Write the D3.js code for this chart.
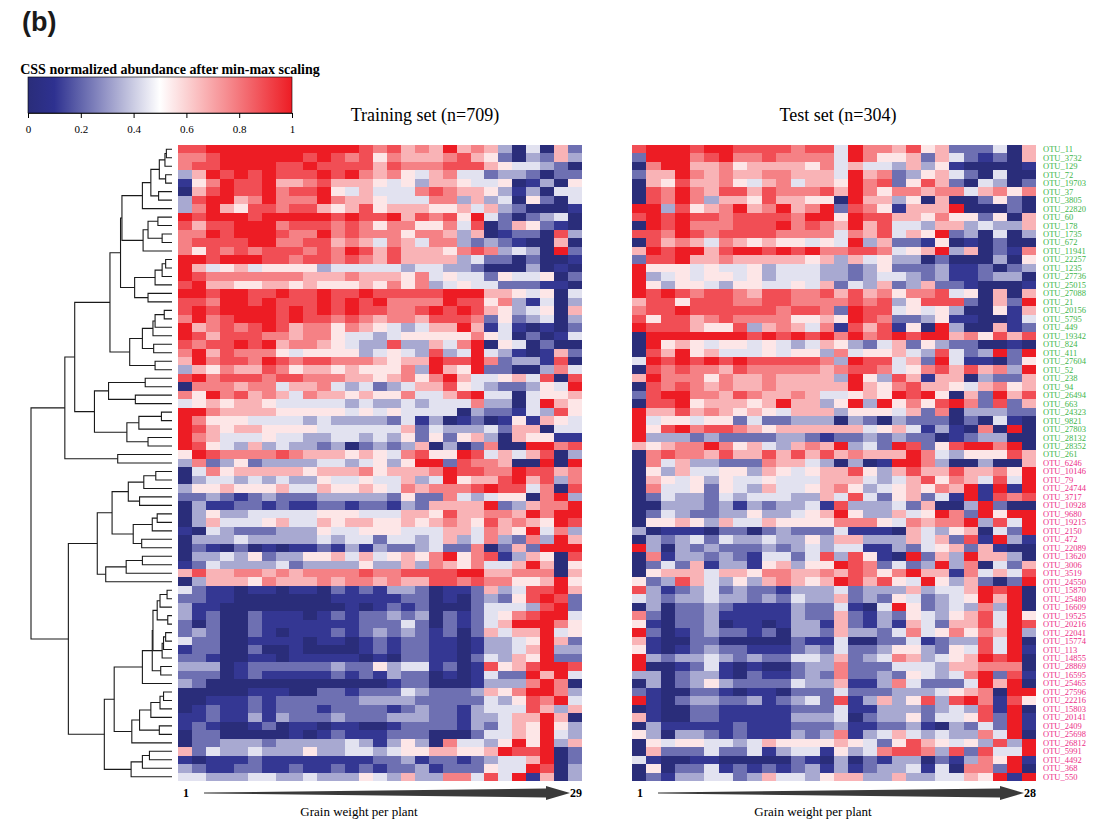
<!DOCTYPE html>
<html>
<head>
<meta charset="utf-8">
<script src="https://cdn.jsdelivr.net/npm/d3@7"></script>
<style>
  body { margin: 0; background: #fff; }
  svg { display: block; }
</style>
</head>
<body>
<svg id="chart"></svg>
<script>

// row labels: upper cluster (green) and lower cluster (pink)
var greenLabels = ["OTU_11", "OTU_3732", "OTU_129", "OTU_72", "OTU_19703", "OTU_37", "OTU_3805", "OTU_22820",
  "OTU_60", "OTU_178", "OTU_1735", "OTU_672", "OTU_11941", "OTU_22257", "OTU_1235", "OTU_27736", "OTU_25015",
  "OTU_27088", "OTU_21", "OTU_20156", "OTU_5795", "OTU_449", "OTU_19342", "OTU_824", "OTU_411", "OTU_27604",
  "OTU_52", "OTU_238", "OTU_94", "OTU_26494", "OTU_663", "OTU_24323", "OTU_9821", "OTU_27803", "OTU_28132",
  "OTU_28352", "OTU_261"];
var pinkLabels = ["OTU_6246", "OTU_10146", "OTU_79", "OTU_24744", "OTU_3717", "OTU_10928", "OTU_9680",
  "OTU_19215", "OTU_2150", "OTU_472", "OTU_22089", "OTU_13620", "OTU_3006", "OTU_3519", "OTU_24550",
  "OTU_15870", "OTU_25480", "OTU_16609", "OTU_19525", "OTU_20216", "OTU_22041", "OTU_15774", "OTU_113",
  "OTU_14855", "OTU_28869", "OTU_16595", "OTU_25465", "OTU_27596", "OTU_22216", "OTU_15803", "OTU_20141",
  "OTU_2409", "OTU_25698", "OTU_26812", "OTU_5991", "OTU_4492", "OTU_368", "OTU_550"];

// scaled abundance per row, in ninths (0 = min, 9 = max), columns sorted by grain weight
var trainRows = [
  "8 8 9 9 9 9 9 9 9 9 9 9 9 8 7 8 6 7 6 9 6 7 6 3 0 4 0 6 2",
  "7 7 8 9 9 9 9 9 9 8 9 8 7 8 5 7 6 6 6 7 8 6 5 2 0 3 2 6 3",
  "7 8 8 9 9 9 9 8 8 9 8 8 8 8 6 8 7 7 7 8 8 8 6 5 4 4 3 2 0",
  "3 6 9 8 9 8 9 8 8 8 9 8 9 7 6 7 5 4 6 7 4 4 2 3 3 2 0 2 2",
  "1 5 7 9 8 8 9 6 6 7 8 6 6 6 5 4 5 3 6 6 5 4 4 5 0 1 3 0 5",
  "0 6 8 9 8 8 9 7 8 8 9 5 4 6 4 4 4 7 8 7 6 6 5 3 1 3 0 4 4",
  "3 8 9 9 6 7 9 7 7 7 9 7 6 6 5 4 4 4 7 7 3 6 3 4 0 5 2 0 4",
  "3 7 9 6 5 8 8 7 8 8 6 5 6 8 5 6 6 6 5 5 6 4 6 3 2 0 0 0 1",
  "9 8 9 9 9 8 9 9 9 9 9 8 9 8 8 9 6 8 7 8 5 9 4 2 0 2 3 4 0",
  "8 6 8 8 9 9 9 7 8 8 8 7 8 7 5 7 7 5 5 7 4 8 0 2 6 5 2 1 0",
  "7 7 9 8 9 9 9 8 7 7 9 7 8 7 7 7 5 7 7 6 3 6 0 1 2 2 0 8 3",
  "7 8 8 8 8 9 9 7 7 8 8 6 7 6 4 7 6 4 7 7 3 2 3 2 1 0 0 6 0",
  "7 5 8 7 8 7 8 8 8 7 8 7 9 8 6 8 6 6 6 5 7 8 7 3 4 3 0 9 2",
  "9 9 8 9 9 9 8 8 7 8 8 7 8 7 6 8 6 6 6 6 3 4 2 2 0 2 0 0 1",
  "9 6 4 5 6 4 5 5 5 5 3 4 4 4 4 4 3 4 4 3 3 2 0 0 0 3 0 1 0",
  "9 8 7 7 7 7 7 7 7 6 6 6 7 6 6 6 5 7 4 5 4 4 2 5 4 4 5 0 2",
  "8 9 6 6 5 5 6 6 5 6 5 5 5 6 5 7 5 7 3 4 5 4 4 2 2 2 1 1 0",
  "9 9 8 9 9 8 8 9 8 8 9 8 8 9 8 8 8 8 8 9 9 9 6 6 5 4 5 0 4",
  "8 8 7 9 9 8 9 8 8 8 9 8 9 8 9 7 7 7 7 9 8 8 5 7 3 1 4 0 3",
  "8 9 8 9 9 9 9 8 9 8 9 8 9 8 8 7 7 8 9 8 9 8 6 5 3 4 5 0 6",
  "7 9 7 8 9 9 9 8 9 8 8 7 8 7 6 7 7 6 8 8 8 7 2 5 2 3 4 0 3",
  "9 6 7 8 7 8 9 8 6 7 7 5 7 6 5 4 3 4 6 6 9 6 1 4 1 0 1 0 2",
  "9 8 6 8 8 8 7 7 6 7 7 5 4 4 3 4 5 5 5 5 5 7 5 4 0 2 0 1 4",
  "8 7 8 8 9 8 9 6 7 7 6 5 4 3 3 8 3 3 6 4 7 9 0 5 4 0 2 0 0",
  "7 9 6 8 7 7 7 5 4 5 5 5 5 3 4 5 4 3 8 3 4 9 4 3 1 0 1 6 2",
  "6 9 7 8 8 7 9 8 7 8 8 7 7 7 6 5 6 6 9 8 8 9 7 2 3 3 1 8 0",
  "3 6 5 7 6 6 8 7 5 6 6 5 6 5 5 5 7 3 9 6 5 9 2 2 0 0 3 7 4",
  "8 9 7 8 8 8 7 8 8 7 7 7 6 6 5 6 7 5 7 9 6 4 4 5 6 4 8 0 8",
  "0 7 7 7 6 7 7 4 6 6 7 4 3 4 2 3 4 6 6 8 5 4 3 2 2 3 5 4 9",
  "7 5 9 7 8 6 7 6 4 7 6 6 5 6 5 5 7 4 4 6 8 9 4 4 0 4 5 5 6",
  "4 5 6 5 6 6 5 4 4 4 4 4 3 4 3 3 4 3 4 4 4 7 3 3 0 4 9 6 5",
  "9 9 7 6 6 6 6 5 5 5 5 5 4 5 4 5 4 4 4 4 0 3 2 2 1 4 3 8 5",
  "9 7 5 5 5 4 4 4 4 3 4 3 3 3 3 2 4 1 3 0 1 2 0 1 5 1 6 5 4",
  "9 8 6 5 6 6 5 5 5 5 4 4 4 4 4 4 6 2 4 3 3 3 4 2 6 6 0 4 4",
  "9 7 6 4 4 4 5 4 4 3 3 4 4 3 4 3 5 2 5 2 5 6 3 0 6 5 5 1 1",
  "9 8 5 4 3 6 3 4 3 3 2 3 0 2 3 2 3 6 0 3 0 2 7 0 0 9 9 7 8",
  "5 9 8 7 7 7 7 8 7 6 6 6 5 6 5 4 7 8 5 5 9 8 4 6 4 6 8 0 3",
  "3 7 2 3 5 2 3 3 3 3 4 4 3 4 5 3 5 9 9 2 8 7 7 6 0 0 9 0 9",
  "0 4 7 5 6 6 6 6 6 5 6 6 6 7 5 6 6 6 7 9 8 8 7 7 9 8 8 6 7",
  "0 3 4 4 3 4 3 4 3 3 5 4 4 5 4 4 6 3 4 9 5 6 6 8 9 6 8 3 7",
  "3 5 5 6 5 5 5 6 4 4 6 5 5 6 5 4 7 6 7 7 7 8 9 8 8 4 7 0 8",
  "2 2 3 2 1 2 3 2 2 2 3 3 3 3 3 2 5 2 2 7 4 3 4 5 5 0 7 9 3",
  "0 3 1 1 2 2 1 2 1 1 2 2 1 2 2 1 3 2 6 6 6 6 9 2 3 6 7 7 9",
  "0 3 5 3 3 4 4 4 4 4 5 5 5 4 4 4 6 6 5 8 6 6 7 7 6 9 7 9 9",
  "0 3 6 4 4 4 5 6 4 4 6 5 6 6 5 5 6 5 6 7 6 5 8 6 7 6 5 9 8",
  "1 0 4 3 2 2 2 3 3 3 5 4 4 5 5 5 4 4 4 6 6 4 7 6 5 9 4 7 3",
  "0 3 3 3 4 3 3 3 3 3 4 3 4 4 2 4 4 3 4 6 3 4 7 3 2 7 3 9 6",
  "0 2 1 0 2 0 1 0 1 1 2 1 3 1 3 2 2 3 4 2 2 7 0 2 6 2 9 9 9",
  "0 3 3 4 3 5 2 3 3 5 5 6 4 6 4 5 6 5 7 9 5 7 8 1 3 6 5 0 8",
  "1 2 4 3 3 3 3 4 2 3 3 3 3 5 3 3 6 3 7 6 5 7 4 4 6 9 6 0 5",
  "6 8 6 6 7 7 6 7 6 7 7 7 7 8 7 7 8 8 8 8 9 9 6 6 7 7 7 0 6",
  "0 3 6 6 6 5 7 6 6 6 7 6 7 7 6 7 6 6 8 8 7 8 7 7 5 5 6 9 5",
  "4 2 1 1 0 1 1 0 1 1 0 2 1 2 1 3 3 2 0 1 1 2 6 3 4 8 8 9 6",
  "2 2 1 1 0 0 0 0 0 0 0 1 1 1 1 1 2 2 0 1 0 2 3 2 5 8 9 8 2",
  "3 1 1 0 0 0 0 0 0 0 0 0 1 0 1 2 1 2 0 0 0 2 4 4 4 3 8 9 2",
  "3 1 2 0 0 2 1 1 1 0 1 2 1 2 2 3 2 3 0 2 1 2 4 5 7 8 9 9 4",
  "2 0 2 0 0 2 1 1 1 1 1 1 1 2 2 2 4 2 0 2 1 2 4 6 9 9 9 7 5",
  "2 3 2 0 0 2 1 0 1 1 1 2 1 2 3 2 3 2 1 2 0 2 6 4 6 6 9 4 5",
  "4 2 2 0 0 1 1 1 1 0 1 1 0 1 2 1 2 2 1 1 0 1 3 3 4 5 9 6 2",
  "1 2 2 0 0 2 0 0 1 0 0 0 0 1 2 1 2 2 1 1 0 1 3 3 4 6 9 3 3",
  "2 2 1 0 0 1 1 0 1 1 1 1 1 0 1 0 2 2 1 1 0 2 4 3 6 5 9 2 2",
  "3 3 3 0 1 2 2 2 2 2 2 3 2 2 5 3 4 4 1 2 0 1 8 5 6 8 9 9 8",
  "2 2 2 0 1 2 1 1 1 1 1 2 1 2 1 3 2 2 0 1 0 1 4 2 2 9 6 9 4",
  "3 2 0 0 0 0 0 0 0 0 0 0 0 0 0 1 2 2 0 0 0 1 3 3 3 7 9 7 0",
  "0 0 0 0 0 1 1 1 0 0 2 2 1 2 2 2 4 3 2 2 2 3 6 5 7 9 9 7 3",
  "0 0 1 1 1 2 1 2 2 2 2 2 2 3 3 3 3 2 2 2 2 2 4 3 5 8 7 9 4",
  "0 1 2 1 1 2 1 2 2 2 1 2 2 2 2 1 2 3 2 2 1 3 4 4 4 8 6 3 6",
  "1 1 2 1 1 3 1 3 2 2 2 3 2 2 2 3 3 3 2 2 1 3 3 4 6 6 9 6 0",
  "1 2 1 0 0 1 2 0 1 1 0 1 1 0 0 1 2 2 2 2 1 3 2 4 6 5 9 5 3",
  "0 2 2 0 0 0 0 0 1 0 1 2 1 1 1 2 2 2 0 0 0 2 4 4 6 5 9 4 3",
  "0 2 2 3 3 3 2 3 3 3 3 3 4 3 1 3 5 3 0 7 4 4 3 5 9 5 9 3 6",
  "6 2 4 3 3 4 3 3 3 5 3 3 4 4 3 4 5 5 6 6 5 5 6 9 8 8 9 0 2",
  "1 0 1 1 1 2 1 1 1 1 1 1 1 1 2 2 3 1 2 2 1 2 3 4 4 6 9 0 2",
  "3 2 1 1 2 2 1 1 2 1 1 2 1 2 1 2 2 3 1 2 2 2 5 4 4 9 8 0 3",
  "4 4 3 3 3 4 4 3 3 4 3 3 3 5 4 3 6 3 3 7 7 4 8 4 9 1 6 0 3"
];

var testRows = [
  "8 9 9 9 8 9 9 8 8 8 8 7 8 8 4 9 7 7 6 8 5 6 2 2 2 4 0 6",
  "2 9 9 9 7 8 9 7 7 8 7 7 7 7 4 9 7 5 5 6 2 6 4 2 1 2 0 6",
  "0 7 9 9 6 6 7 5 6 6 6 6 5 7 4 6 4 4 3 6 3 5 1 0 0 0 0 1",
  "2 6 6 9 7 6 7 6 6 7 7 6 6 6 4 9 6 7 2 3 5 6 4 2 0 4 0 0",
  "0 6 5 8 6 6 7 5 4 6 7 4 6 6 5 9 7 8 2 5 8 6 2 0 4 3 0 2",
  "0 8 7 9 7 6 8 8 6 8 7 7 7 8 6 9 7 5 7 7 6 7 7 4 6 7 5 7",
  "0 8 7 9 7 3 6 6 5 8 6 6 5 5 0 9 6 6 3 5 0 6 0 0 2 5 2 0",
  "9 9 3 8 5 6 7 9 6 7 9 6 7 9 2 8 7 5 1 6 6 6 9 0 0 0 2 0",
  "8 9 8 9 8 8 7 8 8 8 8 7 9 9 5 9 8 8 6 6 5 7 5 5 2 5 0 6",
  "0 9 8 9 7 7 7 8 8 8 9 7 8 7 6 9 6 8 4 4 3 6 6 3 4 3 3 6",
  "8 8 7 9 8 7 8 8 8 8 7 7 7 7 4 7 6 8 4 6 5 9 2 3 0 4 0 3",
  "0 8 6 7 6 4 7 6 5 6 5 5 4 5 4 9 3 6 2 2 1 5 0 1 0 2 0 0",
  "6 9 8 9 9 6 8 9 9 8 9 8 9 7 7 8 8 7 4 5 6 9 3 6 0 2 1 7",
  "2 8 8 9 6 6 7 6 6 6 6 6 5 6 3 6 4 5 3 3 0 2 0 0 0 3 0 5",
  "9 5 5 5 4 5 4 4 5 3 4 4 4 3 3 2 3 5 2 2 2 3 1 1 2 0 2 3",
  "9 3 4 5 4 5 5 4 5 3 4 4 4 3 3 2 3 4 4 3 2 3 1 1 2 3 3 0",
  "9 5 3 5 5 4 3 5 5 4 4 5 4 6 2 4 3 6 2 3 6 2 2 1 0 0 0 1",
  "9 8 9 8 7 8 8 7 6 8 8 7 7 8 6 8 6 7 5 7 7 8 4 5 0 6 0 6",
  "6 8 8 5 8 8 8 7 7 8 8 7 7 7 7 8 7 8 3 5 8 8 8 2 0 6 2 9",
  "7 8 8 9 8 8 8 8 8 8 7 8 8 7 2 9 8 8 4 5 4 5 3 0 0 5 1 6",
  "8 5 8 8 6 7 8 7 7 7 7 5 5 6 5 9 8 7 2 2 3 5 1 1 0 0 1 4",
  "9 8 8 8 6 5 5 8 3 6 7 6 4 7 1 8 6 8 1 5 0 9 3 0 0 6 1 2",
  "0 9 9 9 9 9 9 9 8 9 8 9 8 9 7 9 7 8 9 8 9 9 6 7 5 8 6 8",
  "0 9 5 6 5 4 5 5 4 5 4 3 4 6 5 3 2 4 6 2 5 3 2 2 0 0 1 0",
  "0 8 6 9 5 6 4 4 4 5 4 5 5 3 7 4 5 5 6 4 3 8 4 2 3 9 2 9",
  "4 9 8 9 8 9 8 9 8 8 8 8 8 7 3 9 8 8 4 6 2 9 4 1 1 0 2 5",
  "0 8 7 8 7 7 6 8 7 7 7 7 7 6 7 8 8 7 4 5 7 8 6 8 6 7 3 9",
  "6 9 7 7 7 5 7 6 6 7 6 6 6 6 3 9 5 3 8 6 1 6 6 0 3 2 2 6",
  "0 8 7 8 7 6 7 6 6 7 6 6 6 6 6 9 6 5 7 8 6 6 5 4 6 7 5 6",
  "2 8 9 9 7 7 6 8 7 6 6 7 6 4 4 5 6 5 9 8 9 5 0 6 2 9 6 8",
  "0 8 8 9 5 6 6 6 5 6 9 6 6 3 5 9 3 9 5 7 5 8 9 7 2 8 2 6",
  "9 6 6 8 6 7 6 5 6 5 4 6 6 6 3 5 5 5 4 6 2 7 0 3 3 3 2 2",
  "9 4 5 5 4 5 5 2 4 2 2 3 3 3 0 3 2 0 3 2 2 2 0 2 0 4 1 0",
  "9 5 8 9 7 8 8 7 6 5 6 6 6 6 6 6 4 5 6 4 1 3 1 0 7 0 9 0",
  "9 3 3 3 2 3 2 2 2 2 3 3 2 1 2 2 3 2 3 2 2 0 1 2 3 3 0 0",
  "6 5 6 7 7 9 7 5 6 4 3 6 7 6 9 3 4 2 9 8 2 5 8 9 9 7 9 0",
  "0 7 8 7 7 6 8 6 6 8 6 8 6 8 6 7 6 6 6 9 7 4 3 5 5 5 8 6",
  "0 7 4 6 3 3 2 2 2 7 6 6 4 3 0 3 0 1 9 9 7 3 0 0 3 0 0 6",
  "0 5 3 6 4 4 5 5 3 6 5 4 5 6 6 8 5 3 6 8 6 6 8 6 6 7 5 9",
  "0 6 5 4 5 3 5 4 4 5 4 4 4 6 6 6 4 3 4 6 8 5 7 6 4 8 4 9",
  "0 7 4 4 5 2 5 4 3 6 4 4 5 6 7 5 3 4 5 6 5 7 6 9 1 9 1 9",
  "0 2 4 3 3 2 4 3 4 4 4 3 3 6 4 8 4 2 5 6 2 4 1 9 1 8 7 8",
  "0 0 3 3 3 2 3 1 3 2 3 3 4 1 8 3 3 3 4 2 6 0 0 3 9 2 0 0",
  "0 2 4 3 2 2 3 3 5 3 3 4 5 6 9 5 3 3 6 4 5 9 7 2 9 5 9 9",
  "0 5 5 6 5 3 6 4 4 6 5 5 5 5 7 7 7 5 4 7 6 7 7 9 3 8 4 9",
  "3 0 1 1 1 0 2 2 0 2 3 2 2 2 4 1 1 1 0 6 4 3 5 6 0 4 2 9",
  "0 3 2 3 4 2 4 3 3 4 3 3 5 3 6 6 3 3 3 6 4 6 2 8 1 9 3 1",
  "9 3 0 3 2 3 2 2 2 3 2 3 4 3 4 4 1 1 3 2 4 5 6 2 6 1 0 0",
  "0 7 1 3 3 2 3 2 1 4 4 2 4 8 3 8 5 1 0 9 2 6 3 9 6 6 3 0",
  "0 2 4 2 6 1 3 3 1 5 6 3 5 5 9 8 7 2 4 2 3 9 3 7 0 4 2 6",
  "0 5 6 6 6 4 6 6 5 7 7 6 6 7 6 8 7 5 7 9 6 6 1 7 4 6 4 8",
  "5 2 3 8 6 4 3 5 3 6 7 6 5 6 9 8 6 8 5 4 9 5 3 6 2 0 2 9",
  "8 3 1 2 3 4 2 3 2 2 1 3 3 3 4 2 3 3 3 6 3 4 4 6 9 8 9 0",
  "4 3 2 3 3 4 3 3 2 3 2 4 3 3 6 2 3 2 5 4 2 3 4 5 9 6 9 0",
  "0 3 0 2 2 3 2 1 1 1 1 3 2 2 4 1 0 4 9 5 2 3 4 3 7 3 9 0",
  "7 2 0 2 2 3 1 1 1 1 1 3 2 2 6 2 1 3 2 5 4 3 5 6 8 4 9 5",
  "5 1 0 2 2 3 0 1 1 0 1 3 3 1 6 2 1 3 1 6 4 2 6 6 8 4 9 8",
  "9 2 0 1 2 3 2 2 1 2 0 3 3 2 6 3 3 2 4 7 4 5 7 5 7 6 9 3",
  "6 1 0 0 2 2 0 0 0 0 0 2 1 1 4 0 0 2 2 4 1 2 3 3 8 4 9 0",
  "5 1 0 1 2 3 2 2 1 1 1 2 3 2 4 2 2 3 5 5 3 2 5 4 8 4 9 1",
  "9 3 2 3 3 4 3 2 3 2 2 4 4 3 6 2 3 4 7 6 3 4 5 6 9 8 9 0",
  "9 0 0 1 2 4 1 0 1 0 0 2 3 3 7 2 2 2 4 4 4 3 6 6 7 7 7 0",
  "3 3 0 2 3 3 1 0 2 1 1 2 3 2 7 2 2 3 2 5 4 3 4 7 9 2 8 1",
  "0 3 0 2 3 5 3 2 2 2 2 4 3 3 6 1 1 3 7 4 2 2 2 4 9 6 9 0",
  "2 1 0 0 2 2 1 0 1 1 0 2 2 2 4 2 2 2 3 3 3 4 5 6 7 0 9 9",
  "9 1 0 2 3 3 2 2 3 1 2 3 4 2 8 1 3 6 3 5 8 3 8 9 7 1 8 5",
  "0 1 0 0 2 2 1 1 1 1 1 2 2 2 4 1 1 3 3 3 2 3 4 3 8 1 9 0",
  "6 1 0 0 2 2 1 1 1 1 1 3 3 3 4 0 2 3 3 5 2 4 4 5 8 2 9 1",
  "0 3 1 1 1 1 1 2 1 1 1 2 2 2 3 1 1 2 2 3 1 0 3 2 4 2 9 1",
  "5 3 0 3 3 2 1 2 1 1 1 3 2 3 7 1 3 4 6 4 3 4 3 3 7 4 9 0",
  "0 5 4 5 5 4 4 3 4 6 5 5 5 5 6 5 4 2 5 8 6 5 4 5 3 8 3 9",
  "0 6 2 2 2 4 2 2 4 1 3 4 4 1 5 3 4 7 8 8 7 3 8 2 8 4 4 9",
  "4 1 0 0 1 1 0 0 0 0 0 2 1 0 3 0 2 1 3 3 0 2 1 3 7 5 9 1",
  "0 5 0 2 2 4 1 2 1 2 1 2 3 1 3 1 2 3 3 4 1 4 0 7 7 2 9 0",
  "0 2 1 3 3 4 4 2 3 6 4 4 3 5 6 6 3 3 6 3 3 4 4 6 5 9 1 9"
];

var colorTicks = [0, 0.2, 0.4, 0.6, 0.8, 1];

// row clustering: [merge height, left, right], leaves are row numbers
var rowTree = [1.0,
  [0.76,
    [0.69,
      [0.44,
        [0.365,
          [0.355,
            [0.21, [0.15, [0.09, [0.05, [0.04, 0, 1], 2], [0.045, 3, 4]], [0.095, 5, 6]], 7],
            [0.205, [0.17, [0.10, 8, 9], [0.07, 10, 11]], 12]],
          [0.265, [0.12, [0.07, [0.045, 13, 14], 15], 16], [0.17, 17, 18]]],
        [0.30, [0.21, [0.135, [0.12, [0.055, 19, 20], 21], 22], [0.13, 23, 24]], [0.12, 25, 26]]],
      [0.55, [0.45, [0.19, 27, 28], [0.26, 29, 30]],
             [0.32, [0.235, [0.075, 31, 32], 33], [0.17, 34, 35]]]],
    [0.385, 36, 37]],
  [0.735,
    [0.53,
      [0.425, [0.31, [0.20, [0.115, 38, 39], 40], [0.23, 41, 42]],
              [0.275, [0.14, [0.105, 43, 44], 45], [0.215, 46, 47]]],
      [0.47, [0.325, [0.21, 48, 49], 50], 51]],
    [0.48,
      [0.41,
        [0.21, [0.14, [0.135, [0.105, [0.085, [0.035, 52, 53], 54], [0.03, 55, 56]],
                              [0.07, [0.06, [0.045, 57, 58], 59], 60]],
                      [0.08, 61, 62]], 63],
        [0.285, [0.23, [0.15, [0.085, [0.06, 64, 65], 66], 67], [0.09, 68, 69]], 70]],
      [0.29, [0.21, [0.16, 71, 72], 73], 74]]]];

var rowLabels = greenLabels.concat(pinkLabels);

var width = 1109, height = 840;
var serif = "'Liberation Serif', 'Times New Roman', serif";

var svg = d3.select("#chart")
    .attr("width", width)
    .attr("height", height);

// colour ramp: navy - white - red
var color = d3.scaleLinear()
    .domain([0, 0.1, 0.5, 1])
    .range(["#2a2d7a", "#2e3190", "#ffffff", "#ed1c24"])
    .interpolate(d3.interpolateRgb);

// shared row scale
var y = d3.scaleBand()
    .domain(d3.range(rowLabels.length))
    .range([145, 781]);

function parseRows(rows) {
  var cells = [];
  rows.forEach(function(s, r) {
    s.split(" ").forEach(function(d, c) {
      cells.push({row: r, col: c, value: +d / 9});
    });
  });
  return cells;
}

// one heatmap panel with its title and grain-weight arrow
function drawPanel(rows, x0, x1, title, titleX, lastLabel) {
  var nCols = rows[0].split(" ").length;
  var x = d3.scaleBand().domain(d3.range(nCols)).range([x0, x1]);
  var g = svg.append("g");

  g.selectAll("rect")
      .data(parseRows(rows))
    .enter().append("rect")
      .attr("x", function(d) { return x(d.col); })
      .attr("y", function(d) { return y(d.row); })
      .attr("width", x.bandwidth() + 0.4)
      .attr("height", y.bandwidth() + 0.4)
      .attr("fill", function(d) { return color(d.value); })
      .attr("shape-rendering", "crispEdges");

  svg.append("text")
      .attr("x", titleX)
      .attr("y", 121)
      .attr("text-anchor", "middle")
      .style("font-family", serif)
      .style("font-size", "18px")
      .text(title);

  // arrow: thin wedge growing to the right with a head
  var ax0 = x0 + 26, ax1 = x1 - 12, ay = 793, head = ax1 - 24;
  svg.append("path")
      .attr("d", "M" + ax0 + "," + (ay - 0.5) +
                 "L" + head + "," + (ay - 4.5) +
                 "L" + head + "," + (ay - 7) +
                 "L" + ax1 + "," + ay +
                 "L" + head + "," + (ay + 7) +
                 "L" + head + "," + (ay + 4.5) +
                 "L" + ax0 + "," + (ay + 0.5) + "Z")
      .attr("fill", "#3a3a3a");

  svg.append("text")
      .attr("x", x0 + 8).attr("y", 797)
      .attr("text-anchor", "middle")
      .style("font-family", serif).style("font-size", "12px").style("font-weight", "bold")
      .text("1");
  svg.append("text")
      .attr("x", x1 - 6).attr("y", 797)
      .attr("text-anchor", "middle")
      .style("font-family", serif).style("font-size", "12px").style("font-weight", "bold")
      .text(lastLabel);

  svg.append("text")
      .attr("x", (x0 + x1) / 2 - 21).attr("y", 816)
      .attr("text-anchor", "middle")
      .style("font-family", serif).style("font-size", "13px")
      .text("Grain weight per plant");
}

drawPanel(trainRows, 178, 582, "Training set (n=709)", 425, String(trainRows[0].split(" ").length));
drawPanel(testRows, 632, 1036, "Test set (n=304)", 838, String(testRows[0].split(" ").length));

// row labels to the right of the test panel
svg.append("g").selectAll("text")
    .data(rowLabels)
  .enter().append("text")
    .attr("x", 1043)
    .attr("y", function(d, i) { return y(i) + y.bandwidth() / 2; })
    .attr("dy", "0.35em")
    .style("font-family", serif)
    .style("font-size", "8.5px")
    .attr("fill", function(d, i) { return i < greenLabels.length ? "#3cb54a" : "#ec2d87"; })
    .text(function(d) { return d; });

// dendrogram on the left
var dx = d3.scaleLinear().domain([0, 1]).range([172, 31]);
var root = d3.hierarchy(rowTree, function(d) { return Array.isArray(d) ? d.slice(1) : null; });
root.eachAfter(function(n) {
  if (n.children) {
    n.h = n.data[0];
    n.py = d3.mean(n.children, function(c) { return c.py; });
  } else {
    n.h = 0;
    n.py = y(n.data) + y.bandwidth() / 2;
  }
});

svg.append("g").selectAll("path")
    .data(root.descendants().filter(function(n) { return n.children; }))
  .enter().append("path")
    .attr("d", function(n) {
      var a = n.children[0], b = n.children[1];
      return "M" + dx(a.h) + "," + a.py + "H" + dx(n.h) + "V" + b.py + "H" + dx(b.h);
    })
    .attr("fill", "none")
    .attr("stroke", "#1a1a1a")
    .attr("stroke-width", 1.1);

// panel letter
svg.append("text")
    .attr("x", 22).attr("y", 31)
    .style("font-family", "'Liberation Sans', Arial, sans-serif")
    .style("font-size", "27px").style("font-weight", "bold")
    .attr("fill", "#1a1a1a")
    .text("(b)");

// colour bar legend
var cbX = d3.scaleLinear().domain([0, 1]).range([28, 292]);
var grad = svg.append("defs").append("linearGradient")
    .attr("id", "cbar")
    .attr("x1", "0%").attr("x2", "100%");
grad.selectAll("stop")
    .data(d3.range(0, 1.001, 0.05))
  .enter().append("stop")
    .attr("offset", function(d) { return (d * 100) + "%"; })
    .attr("stop-color", function(d) { return color(d); });

svg.append("text")
    .attr("x", 170).attr("y", 74)
    .attr("text-anchor", "middle")
    .style("font-family", serif).style("font-size", "14px").style("font-weight", "bold")
    .text("CSS normalized abundance after min-max scaling");

svg.append("rect")
    .attr("x", cbX(0)).attr("y", 77)
    .attr("width", cbX(1) - cbX(0)).attr("height", 36)
    .attr("fill", "url(#cbar)")
    .attr("stroke", "#000").attr("stroke-width", 0.6);

var cbAxis = svg.append("g")
    .attr("transform", "translate(0,113)")
    .call(d3.axisBottom(cbX).tickValues(colorTicks).tickSize(5).tickSizeOuter(0)
      .tickFormat(function(d) { return d === 0 || d === 1 ? String(d) : d3.format(".1f")(d); }));
cbAxis.selectAll("text")
    .style("font-family", serif).style("font-size", "11px")
    .attr("dy", "1.1em");
cbAxis.select(".domain").attr("stroke-width", 0.8);

</script>
</body>
</html>
